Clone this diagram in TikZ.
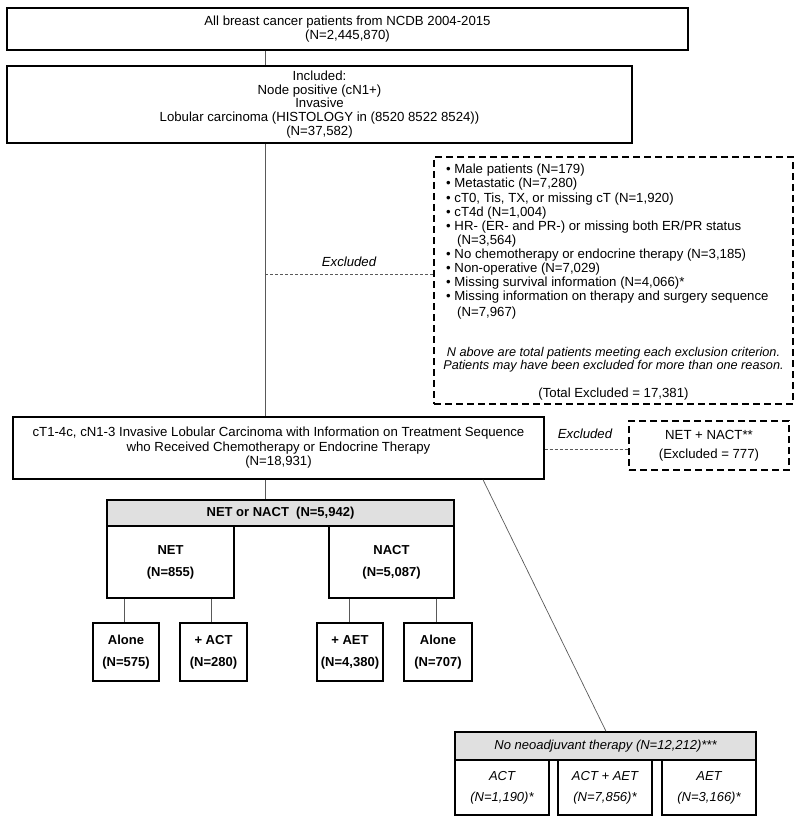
\documentclass[tikz,border=0pt]{standalone}
\usepackage{fontspec}
\setmainfont{Liberation Sans}
\begin{document}
\begin{tikzpicture}[x=1pt,y=-1pt,
  box/.style={draw, line width=1.4pt, inner sep=0pt, align=center, font=\fontsize{13.2}{14}\selectfont},
  conn/.style={draw=black!65, line width=0.7pt},
  dbox/.style={draw, line width=1.3pt, dash pattern=on 7pt off 4pt, inner sep=0pt},
  dconn/.style={draw=black!65, line width=0.7pt, dash pattern=on 3pt off 2pt},
  bl/.style={anchor=base west, inner sep=0pt, font=\fontsize{13.2}{14}\selectfont},
  gbox/.style={box, fill=black!12},
  bbox/.style={box, font=\bfseries\fontsize{13}{22}\selectfont},
  ibox/.style={box, font=\itshape\fontsize{13}{21}\selectfont},
  lab/.style={inner sep=0pt, font=\itshape\fontsize{13.2}{14}\selectfont},
  note/.style={inner sep=0pt, anchor=base, font=\itshape\fontsize{12.7}{14}\selectfont}]
\useasboundingbox (0,0) rectangle (800,821);

% main boxes
\node[box, minimum width=681, minimum height=42] (all) at (347.5,29)
  {All breast cancer patients from NCDB 2004-2015\\(N=2,445,870)};
\node[box, minimum width=625, minimum height=77, font=\fontsize{13.2}{13.75}\selectfont] (inc) at (319.5,104.5)
  {Included:\\Node positive (cN1+)\\Invasive\\Lobular carcinoma (HISTOLOGY in (8520 8522 8524))\\(N=37,582)};
\node[box, minimum width=531, minimum height=62, font=\fontsize{13.2}{14.5}\selectfont] (tsq) at (278.5,448)
  {cT1-4c, cN1-3 Invasive Lobular Carcinoma with Information on Treatment Sequence\\who Received Chemotherapy or Endocrine Therapy\\(N=18,931)};

% exclusion box
\node[dbox, minimum width=359, minimum height=247] (excl) at (613.5,280.5) {};
\node[bl] (b1) at (446,174) {• Male patients (N=179)};
\node[bl] (b2) at (446,188) {• Metastatic (N=7,280)};
\node[bl] (b3) at (446,202) {• cT0, Tis, TX, or missing cT (N=1,920)};
\node[bl] (b4) at (446,216) {• cT4d (N=1,004)};
\node[bl] (b5) at (446,230) {• HR- (ER- and PR-) or missing both ER/PR status};
\node[bl] (b5b) at (457,244) {(N=3,564)};
\node[bl] (b6) at (446,258) {• No chemotherapy or endocrine therapy (N=3,185)};
\node[bl] (b7) at (446,272) {• Non-operative (N=7,029)};
\node[bl] (b8) at (446,286) {• Missing survival information (N=4,066)*};
\node[bl] (b9) at (446,300) {• Missing information on therapy and surgery sequence};
\node[bl] (b9b) at (457,316) {(N=7,967)};
\node[note] (nt1) at (613.5,356) {N above are total patients meeting each exclusion criterion.};
\node[note] (nt2) at (613.5,369) {Patients may have been excluded for more than one reason.};
\node[inner sep=0pt, anchor=base, font=\fontsize{13.2}{14}\selectfont] (tot) at (613.5,397) {(Total Excluded = 17,381)};

\node[dbox, minimum width=160, minimum height=49, align=center, font=\fontsize{13.2}{19}\selectfont] (nn) at (709,445.5)
  {NET + NACT**\\(Excluded = 777)};

% NET / NACT group
\node[gbox, minimum width=347, minimum height=26, font=\bfseries\fontsize{13}{14}\selectfont] (grp) at (280.5,513) {NET or NACT\ \ (N=5,942)};
\node[bbox, minimum width=127, minimum height=72] (net) at (170.5,562) {NET\\(N=855)};
\node[bbox, minimum width=125, minimum height=72] (nact) at (391.5,562) {NACT\\(N=5,087)};
\node[bbox, minimum width=66, minimum height=58] (al1) at (126,652) {Alone\\(N=575)};
\node[bbox, minimum width=67, minimum height=58] (pact) at (213.5,652) {+ ACT\\(N=280)};
\node[bbox, minimum width=66, minimum height=58] (paet) at (350,652) {+ AET\\(N=4,380)};
\node[bbox, minimum width=68, minimum height=58] (al2) at (438,652) {Alone\\(N=707)};

% no neoadjuvant group
\node[gbox, minimum width=301, minimum height=28, font=\itshape\fontsize{13}{14}\selectfont] (noneo) at (605.5,746) {No neoadjuvant therapy (N=12,212)***};
\node[ibox, minimum width=94, minimum height=55] (act) at (502,787.5) {ACT\\(N=1,190)*};
\node[ibox, minimum width=94, minimum height=55] (actaet) at (605,787.5) {ACT + AET\\(N=7,856)*};
\node[ibox, minimum width=94, minimum height=55] (aet) at (709,787.5) {AET\\(N=3,166)*};

% connectors
\coordinate (v) at (265,0);
\draw[conn] (v |- all.south) -- (v |- inc.north);
\draw[conn] (v |- inc.south) -- (v |- tsq.north);
\draw[conn] (v |- tsq.south) -- (v |- grp.north);
\coordinate (ex1) at (265,274);
\draw[dconn] (ex1) -- (ex1 -| excl.west);
\node[lab] (exlab1) at (349,262) {Excluded};
\coordinate (ex2) at (0,449);
\draw[dconn] (ex2 -| tsq.east) -- (ex2 -| nn.west);
\node[lab] (exlab2) at (585,434) {Excluded};
\coordinate (d1) at (483,0);
\coordinate (d2) at (606,0);
\draw[conn] (d1 |- tsq.south) -- (d2 |- noneo.north);
\coordinate (c1) at (124,0);
\coordinate (c2) at (211,0);
\coordinate (c3) at (349,0);
\coordinate (c4) at (436,0);
\draw[conn] (c1 |- net.south) -- (c1 |- al1.north);
\draw[conn] (c2 |- net.south) -- (c2 |- pact.north);
\draw[conn] (c3 |- nact.south) -- (c3 |- paet.north);
\draw[conn] (c4 |- nact.south) -- (c4 |- al2.north);
\end{tikzpicture}
\end{document}
